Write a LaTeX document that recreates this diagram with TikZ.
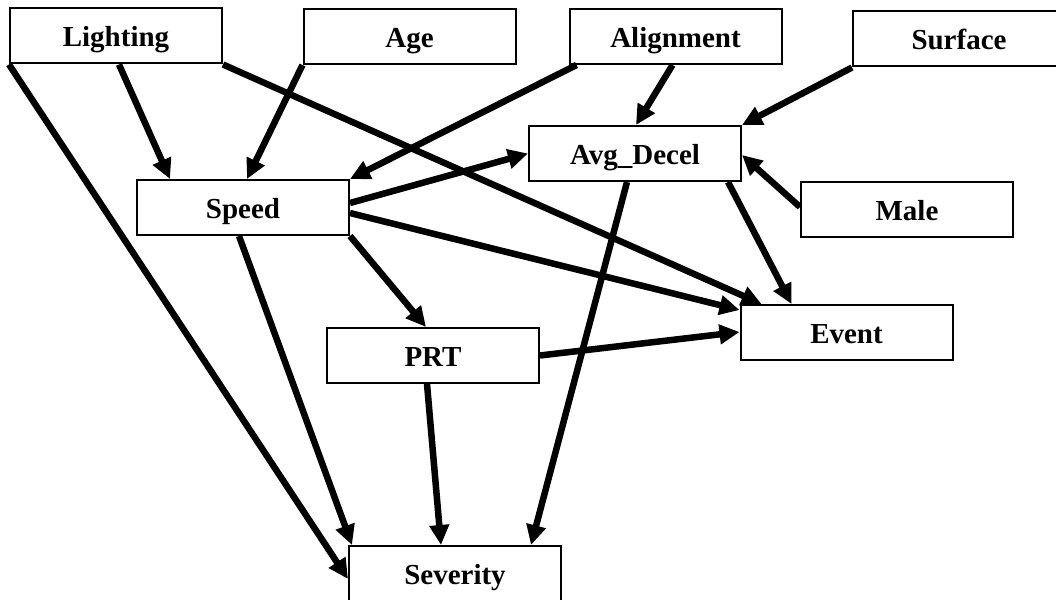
\documentclass[tikz,border=0pt]{standalone}
\usepackage{fontspec}
\setmainfont{Liberation Serif}
\usetikzlibrary{arrows.meta,calc}
\begin{document}
\begin{tikzpicture}[x=1pt,y=-1pt,
  box/.style={draw,line width=2pt,minimum width=212pt,minimum height=55pt,inner sep=0pt,
    text height=22pt,text depth=0pt,
    font=\fontsize{29}{32}\selectfont\bfseries},
  arr/.style={line width=6.5pt,-{Triangle[length=20pt,width=19pt]}}]
\useasboundingbox (0,0) rectangle (1056,599);
\node[box] (light) at (116,36) {Lighting};
\node[box] (age) at (409.5,36.5) {Age};
\node[box] (align) at (675.5,36.5) {Alignment};
\node[box] (surf) at (959,39) {Surface};
\node[box] (speed) at (243,207.5) {Speed};
\node[box] (avgd) at (635,153.5) {Avg\_Decel};
\node[box] (male) at (907,209.5) {Male};
\node[box] (event) at (846.5,332.5) {Event};
\node[box] (prt) at (433,355.5) {PRT};
\node[box] (sev) at (455,573.5) {Severity};
% edges
\draw[arr] ($(light.south west)+(110,0)$) -- ($(speed.north west)+(34,0)$);
\draw[arr] (age.south west) -- ($(speed.north west)+(111,0)$);
\draw[arr] (light.south east) -- ($(event.north west)+(22,0)$);
\draw[arr] (light.south west) -- ($(sev.north west)+(0,34)$);
\draw[arr] ($(align.south west)+(8,0)$) -- (speed.north east);
\draw[arr] ($(align.south west)+(104,0)$) -- ($(avgd.north west)+(108,0)$);
\draw[arr] (surf.south west) -- (avgd.north east);
\draw[arr] ($(male.north west)+(0,26)$) -- ($(avgd.north east)+(0,30)$);
\draw[arr] ($(speed.north east)+(0,24)$) -- (avgd.west);
\draw[arr] ($(speed.north east)+(0,34)$) -- ($(event.north west)+(0,6)$);
\draw[arr] (speed.south east) -- ($(prt.north west)+(100,0)$);
\draw[arr] ($(speed.south west)+(103,0)$) -- ($(sev.north west)+(4,0)$);
\draw[arr] ($(avgd.south west)+(200,0)$) -- ($(event.north west)+(52,0)$);
\draw[arr] ($(avgd.south west)+(99,0)$) -- ($(sev.north west)+(183,0)$);
\draw[arr] (prt.east) -- ($(event.north west)+(0,28)$);
\draw[arr] ($(prt.south west)+(101,0)$) -- ($(sev.north west)+(93,0)$);
\end{tikzpicture}
\end{document}
